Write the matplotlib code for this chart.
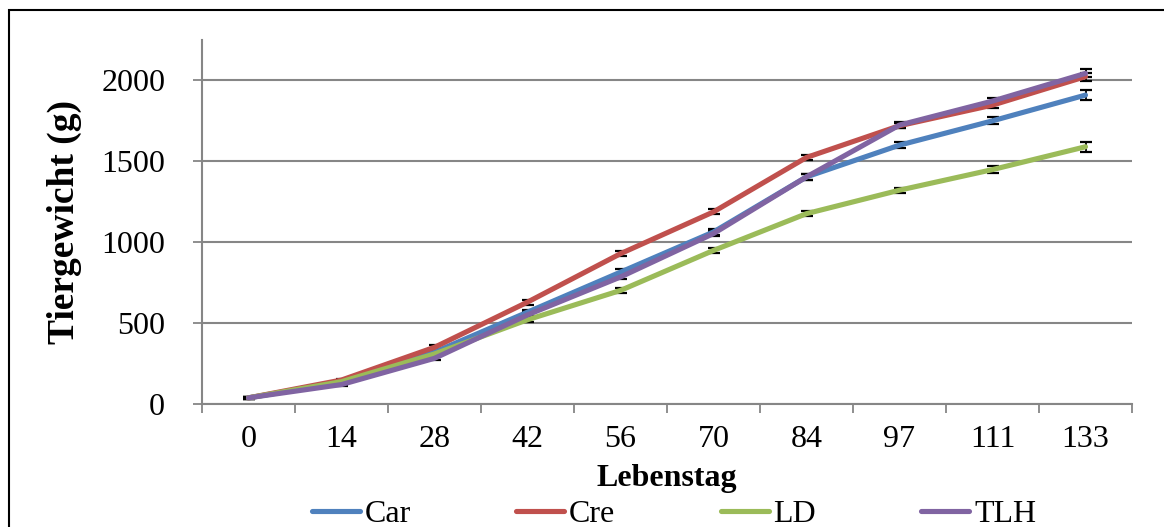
import matplotlib
matplotlib.use("Agg")
import matplotlib.pyplot as plt
from matplotlib.patches import Rectangle
import numpy as np

# Body weight (g) per age group
days = ["0", "14", "28", "42", "56", "70", "84", "97", "111", "133"]
car = [38, 134, 320, 567, 814, 1062, 1402, 1598, 1748, 1907]
cre = [38, 148, 350, 629, 928, 1186, 1522, 1718, 1845, 2021]
ld = [38, 138, 309, 520, 701, 948, 1175, 1320, 1447, 1588]
tlh = [38, 120, 282, 550, 784, 1052, 1402, 1722, 1870, 2041]

car_err = [5, 8, 12, 15, 18, 20, 20, 18, 22, 32]
cre_err = [5, 8, 12, 15, 15, 15, 15, 15, 18, 25]
ld_err = [5, 6, 10, 12, 15, 15, 15, 15, 20, 32]
tlh_err = [5, 6, 10, 15, 15, 15, 18, 18, 20, 25]

series = [
    ("Car", car, car_err, "#4F81BD"),
    ("Cre", cre, cre_err, "#C0504D"),
    ("LD", ld, ld_err, "#9BBB59"),
    ("TLH", tlh, tlh_err, "#8064A2"),
]

plt.rcParams["font.family"] = ["Liberation Serif", "DejaVu Serif"]

W, H = 1164, 527
fig = plt.figure(figsize=(W / 100, H / 100), dpi=100)
ax = fig.add_axes([202 / W, (H - 404) / H, (1132 - 202) / W, (404 - 40) / H])

x = np.arange(len(days))
grey = "#868686"

for name, vals, err, col in series:
    ax.errorbar(x, vals, yerr=err, fmt="none", ecolor="black", elinewidth=1.3,
                capsize=4.0, capthick=1.6, zorder=3)
for name, vals, err, col in series:
    ax.plot(x, vals, color=col, lw=3.7, solid_capstyle="round",
            solid_joinstyle="round", label=name, zorder=4)

ax.set_xlim(-0.5, len(days) - 0.5)
ax.set_ylim(0, 2247)
ax.set_yticks([0, 500, 1000, 1500, 2000])
ax.yaxis.grid(True, color=grey, lw=1.5)
ax.set_axisbelow(True)

ax.set_xticks(x)
ax.set_xticklabels(days)
ax.set_xticks(np.arange(-0.5, len(days)), minor=True)
ax.tick_params(axis="x", which="major", length=0, pad=15, labelsize=23)
ax.tick_params(axis="x", which="minor", length=6.5, width=1.3, color=grey)
ax.tick_params(axis="y", length=6.5, width=1.3, color=grey, pad=20, labelsize=23)

for s in ["top", "right"]:
    ax.spines[s].set_visible(False)
for s in ["left", "bottom"]:
    ax.spines[s].set_color(grey)
    ax.spines[s].set_linewidth(1.5)

ax.set_xlabel("Lebenstag", fontsize=23, fontweight="bold", labelpad=7)
ax.set_ylabel("Tiergewicht (g)", fontsize=27, fontweight="bold", labelpad=14)

fig.legend(loc="center", bbox_to_anchor=(674 / W, 13 / H), ncol=4, frameon=False,
           fontsize=23, handlelength=1.5, handletextpad=0.15, columnspacing=3.3,
           borderaxespad=0, borderpad=0)

fig.patches.append(Rectangle((9 / W, -0.1), 1.2, (H - 10) / H + 0.1,
                             transform=fig.transFigure, fill=False,
                             edgecolor="black", lw=1.5))

fig.savefig("out.png", dpi=100)
